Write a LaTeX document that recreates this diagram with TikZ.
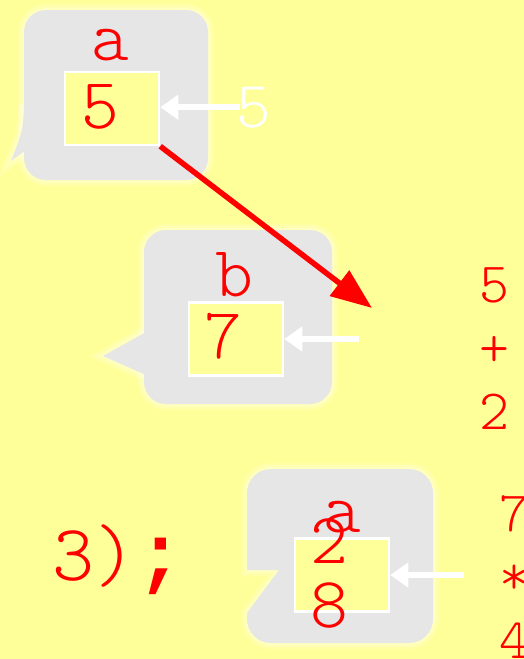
\documentclass[tikz,border=0pt]{standalone}
\usepackage{fontspec}
\setmonofont{Latin Modern Mono Light}
\newfontfamily\semifont{Liberation Mono}
\usetikzlibrary{arrows.meta,positioning}

\definecolor{bgyellow}{HTML}{FFFF99}
\definecolor{bubblegray}{HTML}{E6E6E6}

\tikzset{
  code/.style={font=\ttfamily\fontsize{72}{72}\selectfont, text=red, inner sep=0pt, anchor=base},
  codesmall/.style={code, font=\ttfamily\fontsize{57}{57}\selectfont},
  valbox/.style={draw=white, line width=2.5pt, fill=bgyellow, inner sep=0pt,
    minimum width=94pt, minimum height=73pt},
  inarrow/.style={draw=white, line width=6pt, -{Triangle[length=18pt, width=24pt]}},
  redarrow/.style={draw=red, line width=5.5pt, -{Triangle[length=41pt, width=31pt]}},
  glow/.style={draw=white, line width=#1pt, opacity=0.15}
}

\begin{document}
\begin{tikzpicture}[x=1pt,y=-1pt]
\fill[bgyellow] (0,0) rectangle (524,659);
\useasboundingbox (0,0) rectangle (524,659);

% Bubble for a (top left)
\foreach \w in {12,8,4} {
  \draw[glow=\w, rounded corners=22pt] (24,10) rectangle (208,180);
  \draw[glow=\w] (24,105) .. controls (23,130) .. (11,161) -- (26,150);
}
\fill[bubblegray, rounded corners=22pt] (24,10) rectangle (208,180);
\fill[bubblegray] (25,100) -- (24,105) .. controls (23,130) .. (11,161) -- (26,150) -- cycle;
\node[valbox] (box1) at (112,108.5) {};
\node[code] (varA) at (110,60) {a};
\node[code] (valA) at (100,128) {5};
\node[code, text=white, font=\ttfamily\fontsize{66}{66}\selectfont] (inA) at (254,127) {5};
\draw[inarrow] ([xshift=4pt]inA.west) -- (inA.west -| box1.east);

% Bubble for b (middle)
\foreach \w in {12,8,4} {
  \draw[glow=\w, rounded corners=22pt] (144,230) rectangle (332,404);
  \draw[glow=\w] (144,332) -- (103,356) -- (144,375);
}
\fill[bubblegray, rounded corners=22pt] (144,230) rectangle (332,404);
\fill[bubblegray] (146,332) -- (103,356) -- (146,375) -- cycle;
\node[valbox] (box2) at (236,339) {};
\node[code] (varB) at (234,296) {b};
\node[code] (valB) at (223,358) {7};
\coordinate (inB) at (359,339);
\draw[inarrow] (inB) -- (box2.east);

% Bubble for a again (bottom), tail cut into the left side
\foreach \w in {12,8,4}
  \draw[glow=\w] (247,570) -- (279,570) -- (247,613) -- (247,619) arc (180:90:24)
    -- (409,643) arc (90:0:24) -- (433,493) arc (0:-90:24) -- (271,469) arc (-90:-180:24) -- cycle;
\fill[bubblegray] (247,570) -- (279,570) -- (247,613) -- (247,619) arc (180:90:24)
    -- (409,643) arc (90:0:24) -- (433,493) arc (0:-90:24) -- (271,469) arc (-90:-180:24) -- cycle;
\node[valbox] (box3) at (342,575) {};
\node[code] (varC) at (342,532) {a};
\node[code] (valC) at (329,563) {2};
\node[code] (valD) at (329,627) {8};
\coordinate (inC) at (464,575);
\draw[inarrow] (inC) -- (box3.east);

% Expression columns on the right
\foreach \ch/\y [count=\i] in {5/302, +/366, 2/429}
  \node[codesmall] (sumA\i) at (494,\y) {\ch};
\foreach \ch/\y [count=\i] in {7/531, */594, 4/658}
  \node[codesmall] (prodA\i) at (514,\y) {\ch};

% Red arrow into the sum
\coordinate (sumTop) at (372,308);
\draw[redarrow] (box1.south east) -- (sumTop);

% Tail of the call
\node[code, font=\ttfamily\fontsize{80}{80}\selectfont, anchor=base west] (callEnd) at (52,580) {3){\semifont\bfseries;}};
\end{tikzpicture}
\end{document}
